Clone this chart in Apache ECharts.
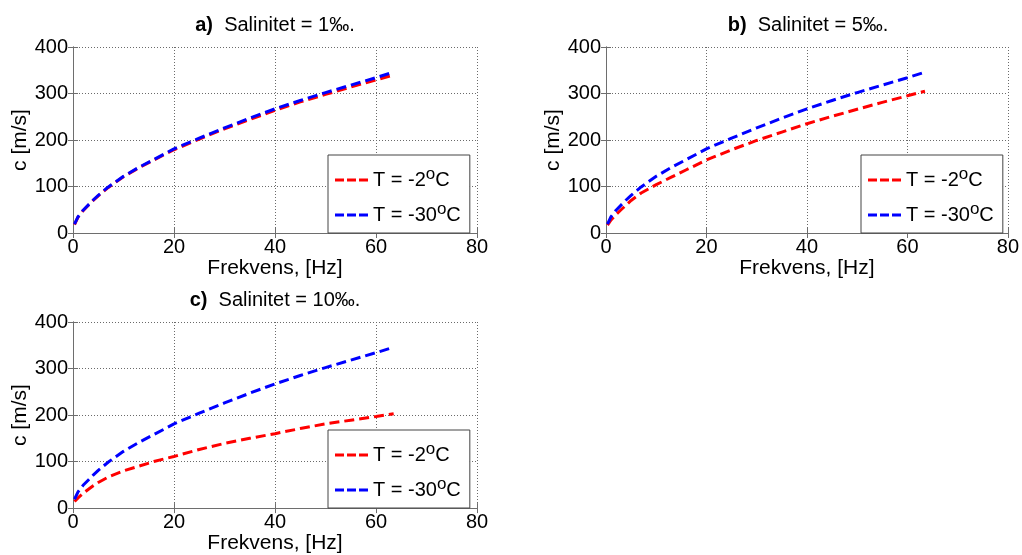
<!DOCTYPE html>
<html>
<head>
<meta charset="utf-8">
<script src="https://cdn.jsdelivr.net/npm/echarts@6/dist/echarts.min.js"></script>
<style>
  html, body { margin: 0; padding: 0; background: #fff; }
  #chart { width: 1022px; height: 555px; }
</style>
</head>
<body>
<div id="chart"></div>
<script>
// Frequency samples, Hz
const freq = [0.3, 1, 2, 3, 4, 5, 7, 10, 13, 16, 20, 25, 30, 35, 40, 45, 50, 55, 60, 63.5];

// Phase velocity c [m/s] at T = -2 °C for each salinity
const warmS1  = [18, 34, 48, 59, 70, 80, 98, 121, 140, 157, 179, 202, 224, 244, 264, 282, 298, 314, 329, 340];
const warmS5  = [17, 28, 40, 50, 60, 70, 86, 104, 120, 136, 157, 179, 199, 217, 235, 251, 266, 281, 295, 305];
const warmS10 = [14, 22, 32, 40, 48, 55, 67, 80, 90, 100, 111, 126, 139, 150, 160, 171, 181, 189, 197, 203];

// Phase velocity c [m/s] at T = -30 °C for each salinity
const coldS1  = [19, 35, 49, 60, 71, 81, 99, 122, 141, 158, 181, 204, 226, 247, 267, 285, 302, 318, 334, 346];
const coldS5  = [19, 35, 49, 60, 71, 81, 99, 122, 141, 158, 181, 204, 226, 247, 267, 285, 302, 318, 334, 346];
const coldS10 = [19, 35, 49, 60, 71, 81, 99, 122, 141, 158, 181, 204, 226, 247, 267, 285, 302, 318, 334, 346];

// Panel titles and legend names
const panelTags = ['a)', 'b)', 'c)'];
const panelSalinity = ['1', '5', '10'];
const warmName = 'T = -2°C';
const coldName = 'T = -30°C';
const xTicks = { min: 0, max: 80, interval: 20 };
const yTicks = { min: 0, max: 400, interval: 100 };
const xName = 'Frekvens, [Hz]';
const yName = 'c [m/s]';

const FONT = '"Liberation Sans", Arial, Helvetica, sans-serif';
const BOX = '#6e6e6e';
// Legend key: three short dashes, like the dashed curves
const DASH_ICON = 'path://M0,0H9V3H0Z M12,0H21V3H12Z M24,0H33V3H24Z';

const grids = [
  { left: 73,  top: 47,  width: 404, height: 186 },
  { left: 606, top: 47,  width: 404, height: 186 },
  { left: 73,  top: 322, width: 404, height: 187 }
];

function pairs(xs, ys) { return xs.map((x, i) => [x, ys[i]]); }

const warmSets = [warmS1, warmS5, warmS10];
const coldSets = [coldS1, coldS5, coldS10];

const xAxes = [], yAxes = [], series = [], titles = [], legends = [];

grids.forEach((g, i) => {
  const tickStyle = { show: true, inside: true, length: 5, lineStyle: { color: BOX, width: 1 } };
  const gridLine = { show: true, lineStyle: { color: '#6a6a6a', width: 1, type: [1, 2] } };
  xAxes.push({
    type: 'value', gridIndex: i, position: 'bottom', min: xTicks.min, max: xTicks.max, interval: xTicks.interval,
    axisLine: { show: true, lineStyle: { color: BOX, width: 1 } },
    axisTick: tickStyle,
    axisLabel: { color: '#000', fontSize: 20, fontFamily: FONT, margin: 4 },
    splitLine: gridLine,
    name: xName, nameLocation: 'middle', nameGap: 17,
    nameTextStyle: { color: '#000', fontSize: 21, fontFamily: FONT }
  });
  xAxes.push({
    type: 'value', gridIndex: i, position: 'top', min: xTicks.min, max: xTicks.max, interval: xTicks.interval,
    axisLine: { show: true, lineStyle: { color: BOX, width: 1 } },
    axisTick: tickStyle, axisLabel: { show: false }, splitLine: { show: false }
  });
  yAxes.push({
    type: 'value', gridIndex: i, position: 'left', min: yTicks.min, max: yTicks.max, interval: yTicks.interval,
    axisLine: { show: true, lineStyle: { color: BOX, width: 1 } },
    axisTick: tickStyle,
    axisLabel: { color: '#000', fontSize: 20, fontFamily: FONT, margin: 5 },
    splitLine: gridLine,
    name: yName, nameLocation: 'middle', nameGap: 39, nameRotate: 90,
    nameTextStyle: { color: '#000', fontSize: 21, fontFamily: FONT }
  });
  yAxes.push({
    type: 'value', gridIndex: i, position: 'right', min: yTicks.min, max: yTicks.max, interval: yTicks.interval,
    axisLine: { show: true, lineStyle: { color: BOX, width: 1 } },
    axisTick: tickStyle, axisLabel: { show: false }, splitLine: { show: false }
  });

  const curves = [
    { name: warmName, color: '#ff0000', data: warmSets[i] },
    { name: coldName, color: '#0000ff', data: coldSets[i] }
  ];
  curves.forEach(c => {
    series.push({
      type: 'line', name: c.name, xAxisIndex: i * 2, yAxisIndex: i * 2,
      data: pairs(freq, c.data), showSymbol: false, symbol: 'none',
      itemStyle: { color: c.color },
      lineStyle: { color: c.color, width: 3, type: [10, 5] },
      emphasis: { disabled: true }, silent: true
    });
  });

  titles.push({
    text: '{b|' + panelTags[i] + '}  Salinitet = ' + panelSalinity[i] + '‰.',
    left: g.left + g.width / 2, top: g.top - 32, textAlign: 'center', padding: 0,
    textStyle: {
      color: '#000', fontSize: 20, fontWeight: 'normal', fontFamily: FONT,
      rich: { b: { fontSize: 20, fontWeight: 'bold', fontFamily: FONT, color: '#000' } }
    }
  });

  legends.push({
    orient: 'vertical', left: g.left + 255, top: g.top + 108,
    data: [warmName, coldName], selectedMode: false,
    icon: DASH_ICON,
    itemWidth: 33, itemHeight: 3, itemGap: 11,
    padding: [11, 9, 8, 7],
    borderColor: '#444', borderWidth: 1, backgroundColor: '#fff',
    formatter: n => n.replace('°', '{sup|o}'),
    textStyle: {
      color: '#000', fontSize: 20, fontFamily: FONT,
      rich: { sup: { fontSize: 17, fontFamily: FONT, color: '#000', padding: [0, 0, 11, 0] } }
    }
  });
});

const chart = echarts.init(document.getElementById('chart'), null, { renderer: 'canvas' });
chart.setOption({
  animation: false,
  backgroundColor: '#fff',
  title: titles,
  legend: legends,
  grid: grids.map(g => Object.assign({ containLabel: false }, g)),
  xAxis: xAxes,
  yAxis: yAxes,
  series: series
});
</script>
</body>
</html>
